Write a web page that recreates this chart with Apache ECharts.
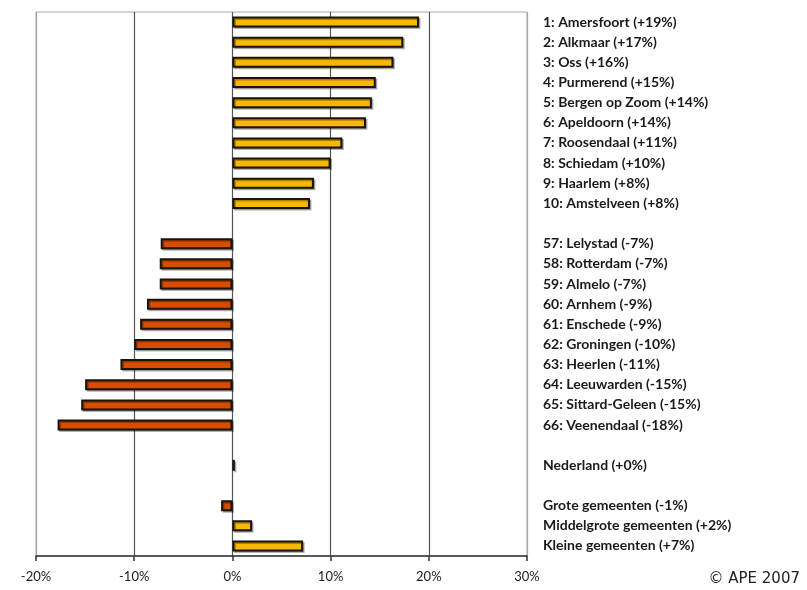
<!DOCTYPE html>
<html>
<head>
<meta charset="utf-8">
<script src="https://cdn.jsdelivr.net/npm/echarts@6/dist/echarts.min.js"></script>
<style>
  html, body { margin: 0; padding: 0; background: #fff; }
  #chart { width: 807px; height: 590px; }
</style>
</head>
<body>
<div id="chart"></div>
<script>
// Population change per municipality (%), top 10, bottom 10 and totals
var places = ['Amersfoort', 'Alkmaar', 'Oss', 'Purmerend', 'Bergen op Zoom', 'Apeldoorn',
  'Roosendaal', 'Schiedam', 'Haarlem', 'Amstelveen', '',
  'Lelystad', 'Rotterdam', 'Almelo', 'Arnhem', 'Enschede', 'Groningen', 'Heerlen',
  'Leeuwarden', 'Sittard-Geleen', 'Veenendaal', '',
  'Nederland', '',
  'Grote gemeenten', 'Middelgrote gemeenten', 'Kleine gemeenten'];
var ranks = [1, 2, 3, 4, 5, 6, 7, 8, 9, 10, null,
  57, 58, 59, 60, 61, 62, 63, 64, 65, 66, null,
  null, null,
  null, null, null];
var changes = [19.0, 17.4, 16.4, 14.6, 14.2, 13.6, 11.2, 10.0, 8.3, 7.9, null,
  -7.3, -7.4, -7.4, -8.7, -9.4, -10.0, -11.4, -15.0, -15.4, -17.8, null,
  0.25, null,
  -1.15, 2.0, 7.2];
var xTicks = [-20, -10, 0, 10, 20, 30];

var labels = places.map(function (p, i) {
  if (changes[i] === null) return '';
  var r = Math.round(changes[i]);
  var txt = p + ' (' + (r >= 0 ? '+' : '-') + Math.abs(r) + '%)';
  return ranks[i] !== null ? ranks[i] + ': ' + txt : txt;
});

var chart = echarts.init(document.getElementById('chart'), null, { renderer: 'canvas' });
chart.setOption({
  animation: false,
  backgroundColor: '#ffffff',
  grid: {
    left: 36, right: 280, top: 12, bottom: 34,
    show: true, borderColor: '#a8a8a8', borderWidth: 1
  },
  xAxis: {
    type: 'value',
    min: xTicks[0], max: xTicks[xTicks.length - 1], interval: 10,
    axisLine: { show: true, onZero: false, lineStyle: { color: '#333', width: 1.5 } },
    axisTick: { show: true, inside: false, length: 5, lineStyle: { color: '#333', width: 1.5 } },
    axisLabel: {
      margin: 14, color: '#222', fontSize: 13, fontFamily: 'Lato',
      formatter: function (v) { return v + '%'; }
    },
    splitLine: {
      show: true,
      lineStyle: { color: ['#a8a8a8', '#555', '#555', '#555', '#555', '#a8a8a8'], width: 1.2 }
    }
  },
  yAxis: {
    type: 'category',
    inverse: true,
    position: 'right',
    data: labels,
    axisLine: { show: false },
    axisTick: { show: false },
    axisLabel: {
      align: 'left', margin: 16, interval: 0,
      color: '#1a1a1a', fontSize: 14, fontWeight: 'bold', fontFamily: 'Lato'
    }
  },
  series: [{
    type: 'bar',
    barWidth: 11,
    data: changes.map(function (v) {
      return v === null ? null : {
        value: v,
        itemStyle: { color: v >= 0 ? '#f6b800' : '#d94d00' }
      };
    }),
    itemStyle: {
      borderColor: '#1b1408', borderWidth: 2,
      shadowColor: 'rgba(0,0,0,0.3)', shadowOffsetX: 1.5, shadowOffsetY: 1.5, shadowBlur: 0
    }
  }],
  graphic: [{
    type: 'text',
    right: 7, top: 572,
    style: { text: '\u00a9 APE 2007', fill: '#222', font: '15px "DejaVu Sans"' }
  }]
});
</script>
</body>
</html>
